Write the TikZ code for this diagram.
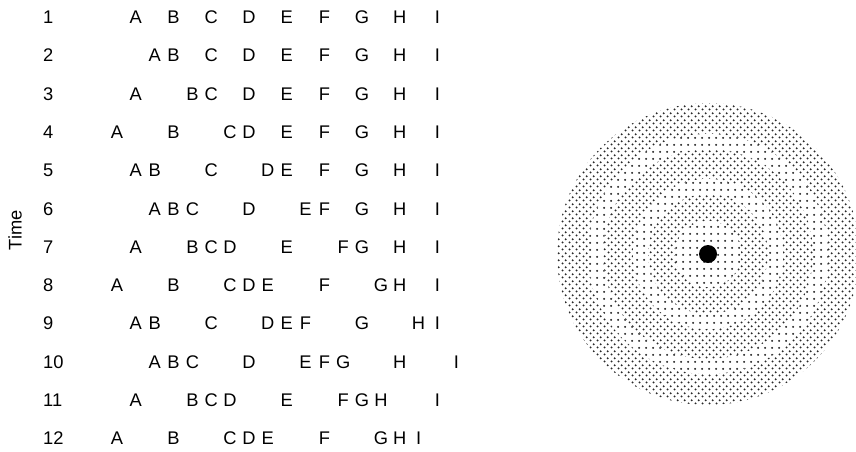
\documentclass[tikz,border=0pt]{standalone}
\usepackage{fontspec}
\setmainfont{Liberation Sans}
\usetikzlibrary{patterns.meta}
\definecolor{DotGray}{HTML}{2A2A2A}

% dot patterns for the rings
\tikzdeclarepattern{
  name=sparsedots, type=uncolored,
  bounding box={(0pt,0pt) and (6.6pt,6.6pt)},
  tile size={(6.6pt,6.6pt)},
  code={\pgfpathcircle{\pgfpoint{3.3pt}{3.3pt}}{1.15pt}\pgfusepath{fill}}
}
\tikzdeclarepattern{
  name=densedots, type=uncolored,
  bounding box={(0pt,0pt) and (6.6pt,6.6pt)},
  tile size={(6.6pt,6.6pt)},
  code={\pgfpathcircle{\pgfpoint{1.65pt}{1.65pt}}{1.15pt}\pgfusepath{fill}
        \pgfpathcircle{\pgfpoint{4.95pt}{4.95pt}}{1.15pt}\pgfusepath{fill}}
}
\newcommand{\symlet}[1]{\ifcase#1\or A\or B\or C\or D\or E\or F\or G\or H\or I\fi}

\begin{document}
\begin{tikzpicture}[
        x=1pt, y=-1pt, font=\fontsize{18.3}{21}\selectfont,
        letter/.style={anchor=base, inner sep=0pt},
        rownum/.style={anchor=base west, inner sep=0pt},
        axis/.style={rotate=90, inner sep=0pt},
        dense/.style={preaction={fill=white}, pattern=densedots, pattern color=DotGray},
        sparse/.style={preaction={fill=white}, pattern=sparsedots, pattern color=DotGray},
      ]
        \useasboundingbox (0,0) rectangle (856,451);
        % rows: half-slot positions of A..I
        \foreach \pos [count=\row] in {
            {1,3,5,7,9,11,13,15,17},
            {2,3,5,7,9,11,13,15,17},
            {1,4,5,7,9,11,13,15,17},
            {0,3,6,7,9,11,13,15,17},
            {1,2,5,8,9,11,13,15,17},
            {2,3,4,7,10,11,13,15,17},
            {1,4,5,6,9,12,13,15,17},
            {0,3,6,7,8,11,14,15,17},
            {1,2,5,8,9,10,13,16,17},
            {2,3,4,7,10,11,12,15,18},
            {1,4,5,6,9,12,13,14,17},
            {0,3,6,7,8,11,14,15,16}} {
          \node[rownum] (t\row) at (43, {23.5+38.3*(\row-1)}) {\row};
          \foreach \p [count=\k] in \pos
            \node[letter] (r\row-\k) at ({117+18.85*\p}, {23.5+38.3*(\row-1)}) {\symlet{\k}};
        }
        \node[axis] (time) at (15,230) {Time};
        % target rings
        \begin{scope}
          \clip (0,0) rectangle (856,451);
          \fill[dense]  (708,254) circle (151);
          \fill[sparse] (708,254) circle (120);
          \fill[dense]  (708,254) circle (105);
          \fill[sparse] (708,254) circle (75);
          \fill[dense]  (708,254) circle (60);
          \fill[sparse] (708,254) circle (33);
          \fill[black]  (708,254) circle (9);
        \end{scope}
      \end{tikzpicture}
\end{document}
